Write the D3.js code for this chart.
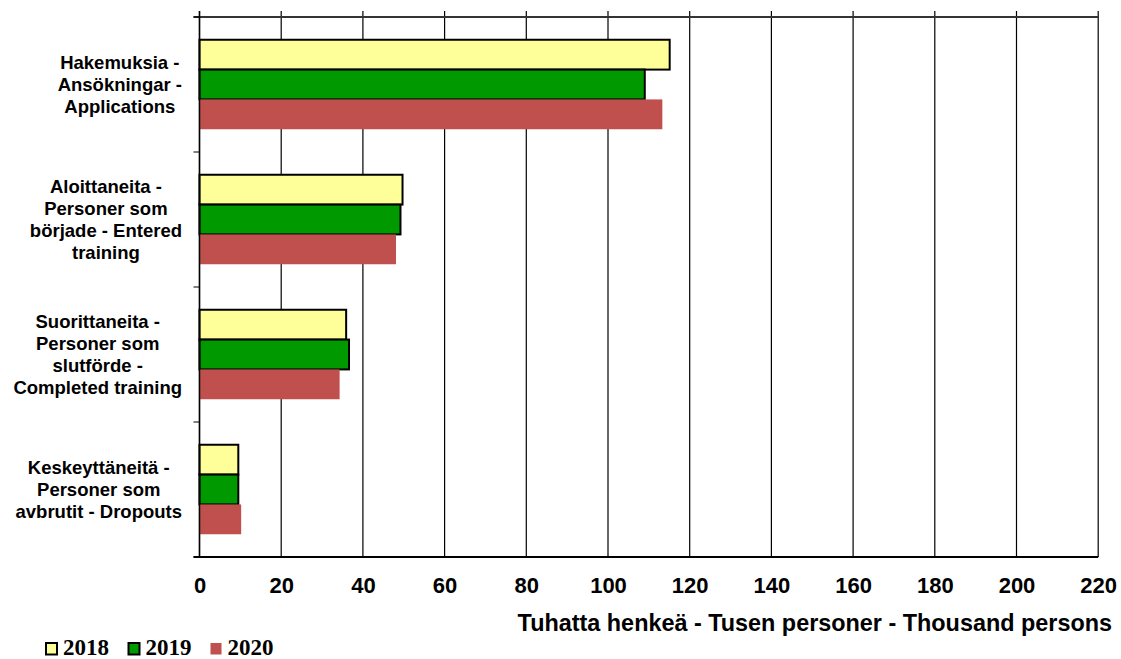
<!DOCTYPE html>
<html><head><meta charset="utf-8">
<script src="https://cdn.jsdelivr.net/npm/d3@7"></script>
<style>
html,body{margin:0;padding:0;background:#fff;}
svg{display:block;}
</style></head>
<body>
<svg id="chart" width="1121" height="659"></svg>
<script>
const categories = [
  ["Hakemuksia -", "Ansökningar -", "Applications"],
  ["Aloittaneita -", "Personer som", "började - Entered", "training"],
  ["Suorittaneita -", "Personer som", "slutförde -", "Completed training"],
  ["Keskeyttäneitä -", "Personer som", "avbrutit - Dropouts"]
];
const series = ["2018", "2019", "2020"];
const values2018 = [115.1, 49.7, 35.9, 9.5];
const values2019 = [109.0, 49.2, 36.6, 9.5];
const values2020 = [113.3, 48.1, 34.3, 10.2];
const xTicks = [0, 20, 40, 60, 80, 100, 120, 140, 160, 180, 200, 220];
const xTitle = "Tuhatta henkeä - Tusen personer - Thousand persons";
const colors = ["#FFFF99", "#009900", "#C0504D"];
const strokes = ["#000", "#000", "none"];

(function () {
const allValues = [values2018, values2019, values2020];
const svg = d3.select("#chart");
const mLeft = 199.5, mRight = 1098.2, mTop = 17, mBottom = 557;

const x = d3.scaleLinear().domain([0, 220]).range([mLeft, mRight]);
const y = d3.scaleBand().domain(d3.range(categories.length)).range([mTop, mBottom]);
const bh = y.bandwidth() * 0.221;
const groupOff = (y.bandwidth() - 3 * bh) / 2;

// vertical gridlines
svg.append("g").selectAll("line").data(xTicks).join("line")
  .attr("x1", d => x(d)).attr("x2", d => x(d))
  .attr("y1", mTop - 6).attr("y2", mBottom)
  .attr("stroke", "#000").attr("stroke-width", 1.2);

// top line
svg.append("line").attr("x1", mLeft - 6).attr("x2", mRight)
  .attr("y1", mTop).attr("y2", mTop).attr("stroke", "#333").attr("stroke-width", 2);

// bars
series.forEach((s, si) => {
  svg.append("g").selectAll("rect").data(allValues[si]).join("rect")
    .attr("x", x(0))
    .attr("y", (d, i) => y(i) + groupOff + si * bh)
    .attr("width", d => x(d) - x(0))
    .attr("height", bh)
    .attr("fill", colors[si])
    .attr("stroke", strokes[si])
    .attr("stroke-width", 2);
});

// left axis
svg.append("line").attr("x1", mLeft).attr("x2", mLeft)
  .attr("y1", mTop - 6).attr("y2", mBottom).attr("stroke", "#000").attr("stroke-width", 1.5);
svg.append("g").selectAll("line").data(d3.range(categories.length + 1)).join("line")
  .attr("x1", mLeft - 6).attr("x2", mLeft)
  .attr("y1", d => mTop + d * y.step()).attr("y2", d => mTop + d * y.step())
  .attr("stroke", "#000").attr("stroke-width", 1);

// bottom axis
const xAxis = d3.axisBottom(x).tickValues(xTicks).tickSize(0).tickPadding(0);
const gx = svg.append("g").attr("transform", `translate(0,${mBottom})`).call(xAxis);
gx.select(".domain").remove();
svg.append("line").attr("x1", mLeft - 6).attr("x2", mRight)
  .attr("y1", mBottom).attr("y2", mBottom).attr("stroke", "#000").attr("stroke-width", 2);
gx.selectAll("text")
  .attr("y", 36).attr("dy", 0)
  .attr("font-family", "Liberation Sans, Arial, sans-serif")
  .attr("font-weight", "bold").attr("font-size", "22px").attr("fill", "#000");

// axis title
svg.append("text").attr("x", 1112).attr("y", 631).attr("text-anchor", "end")
  .attr("font-family", "Liberation Sans, Arial, sans-serif")
  .attr("font-weight", "bold").attr("font-size", "23.4px").text(xTitle);

// category labels
const lineH = 21.7;
categories.forEach((lines, i) => {
  const g = svg.append("g");
  const cy = y(i) + y.bandwidth() / 2;
  const n = lines.length;
  const texts = lines.map((t, k) => g.append("text")
    .attr("y", cy + (k - (n - 1) / 2) * lineH + 6.5)
    .attr("text-anchor", "middle")
    .attr("font-family", "Liberation Sans, Arial, sans-serif")
    .attr("font-weight", "bold").attr("font-size", "18.5px").text(t));
  const maxW = d3.max(texts, t => t.node().getComputedTextLength());
  texts.forEach(t => t.attr("x", 182 - maxW / 2));
});

// legend
const legX = [46, 128.5, 210.5];
series.forEach((s, si) => {
  svg.append("rect").attr("x", legX[si]).attr("y", 643)
    .attr("width", 11).attr("height", 11.5)
    .attr("fill", colors[si]).attr("stroke", strokes[si]).attr("stroke-width", 2);
  svg.append("text").attr("x", legX[si] + 17).attr("y", 655)
    .attr("font-family", "Liberation Serif, Times New Roman, serif")
    .attr("font-weight", "bold").attr("font-size", "23px").text(s);
});
})();
</script>
</body></html>
